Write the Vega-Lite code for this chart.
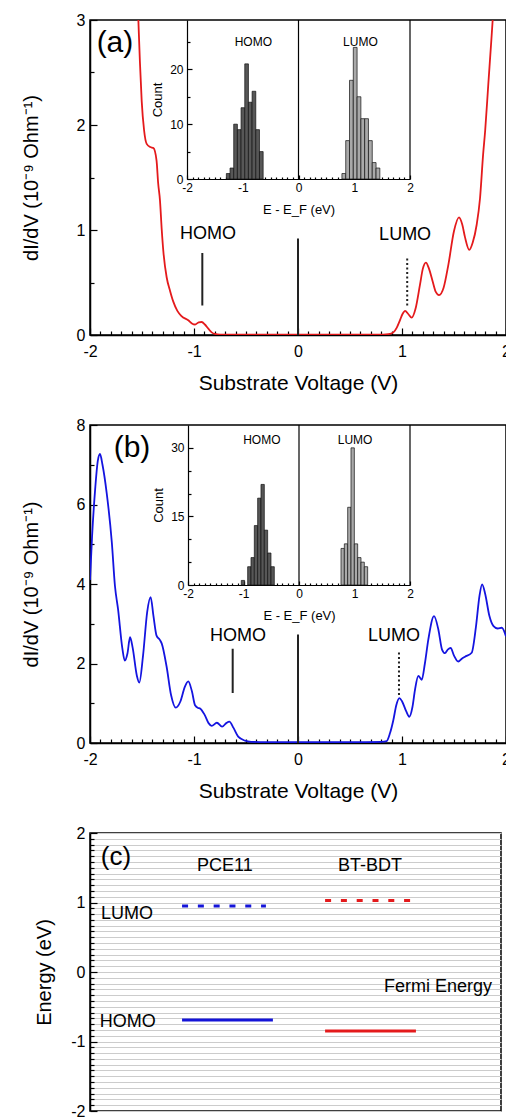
{
  "$schema": "https://vega.github.io/schema/vega-lite/v6.json",
  "background": "white",
  "padding": {"left": 20, "top": 11, "right": 0, "bottom": 0},
  "spacing": 90,
  "bounds": "flush",
  "resolve": {"scale": {"color": "independent", "strokeDash": "independent"}},
  "config": {
    "font": "Liberation Sans",
    "view": {"stroke": "black", "strokeWidth": 1.5},
    "axis": {"domainColor": "black", "tickColor": "black", "labelColor": "black", "titleColor": "black", "grid": false, "labelFont": "Liberation Sans", "titleFont": "Liberation Sans", "titleFontWeight": "normal", "labelFlush": false, "labelOverlap": false, "domainWidth": 1.5, "tickWidth": 1.2, "tickCount": 200},
    "text": {"font": "Liberation Sans", "color": "black"}
  },
  "vconcat": [
    {
      "width": 416, "height": 315,
      "layer": [
        {
          "data": {"values": [
            {"V": -1.55, "G": 3.4}, {"V": -1.535, "G": 3.0}, {"V": -1.52, "G": 2.6}, {"V": -1.503, "G": 2.23}, {"V": -1.48, "G": 1.95}, {"V": -1.455, "G": 1.82}, {"V": -1.42, "G": 1.79}, {"V": -1.39, "G": 1.78}, {"V": -1.36, "G": 1.66}, {"V": -1.345, "G": 1.45}, {"V": -1.327, "G": 1.28}, {"V": -1.31, "G": 1.0}, {"V": -1.295, "G": 0.8}, {"V": -1.263, "G": 0.55}, {"V": -1.23, "G": 0.42}, {"V": -1.2, "G": 0.32}, {"V": -1.16, "G": 0.23}, {"V": -1.12, "G": 0.18}, {"V": -1.055, "G": 0.14}, {"V": -1.02, "G": 0.11}, {"V": -0.99, "G": 0.1}, {"V": -0.955, "G": 0.12}, {"V": -0.926, "G": 0.124}, {"V": -0.895, "G": 0.1}, {"V": -0.862, "G": 0.06}, {"V": -0.83, "G": 0.025}, {"V": -0.8, "G": 0.01}, {"V": -0.75, "G": 0.004}, {"V": -0.5, "G": 0.003}, {"V": 0, "G": 0.003}, {"V": 0.5, "G": 0.003}, {"V": 0.82, "G": 0.004}, {"V": 0.87, "G": 0.008}, {"V": 0.917, "G": 0.025}, {"V": 0.95, "G": 0.07}, {"V": 0.98, "G": 0.14}, {"V": 1.005, "G": 0.2}, {"V": 1.03, "G": 0.23}, {"V": 1.06, "G": 0.2}, {"V": 1.093, "G": 0.165}, {"V": 1.13, "G": 0.25}, {"V": 1.173, "G": 0.48}, {"V": 1.2, "G": 0.63}, {"V": 1.23, "G": 0.69}, {"V": 1.26, "G": 0.63}, {"V": 1.295, "G": 0.51}, {"V": 1.325, "G": 0.41}, {"V": 1.356, "G": 0.38}, {"V": 1.4, "G": 0.45}, {"V": 1.446, "G": 0.67}, {"V": 1.5, "G": 0.99}, {"V": 1.548, "G": 1.12}, {"V": 1.58, "G": 1.05}, {"V": 1.606, "G": 0.93}, {"V": 1.647, "G": 0.81}, {"V": 1.68, "G": 0.88}, {"V": 1.718, "G": 1.05}, {"V": 1.75, "G": 1.3}, {"V": 1.78, "G": 1.72}, {"V": 1.8, "G": 1.95}, {"V": 1.83, "G": 2.39}, {"V": 1.855, "G": 2.75}, {"V": 1.872, "G": 3.0}, {"V": 1.89, "G": 3.3}
          ]},
          "mark": {"type": "line", "color": "#e41a1c", "strokeWidth": 1.8, "clip": true, "interpolate": "monotone"},
          "encoding": {
            "x": {"field": "V", "type": "quantitative", "scale": {"domain": [-2, 2], "nice": false, "zero": false},
              "axis": {"orient": "bottom", "values": [-2,-1.9,-1.8,-1.7,-1.6,-1.5,-1.4,-1.3,-1.2,-1.1,-1,-0.9,-0.8,-0.7,-0.6,-0.5,-0.4,-0.3,-0.2,-0.1,0,0.1,0.2,0.3,0.4,0.5,0.6,0.7,0.8,0.9,1,1.1,1.2,1.3,1.4,1.5,1.6,1.7,1.8,1.9,2],
                "labelExpr": "datum.value % 1 === 0 ? '' + datum.value : ''",
                "tickSize": {"condition": {"test": "datum.value % 1 === 0", "value": -7}, "value": -4},
                "labelPadding": 15, "labelFontSize": 16, "title": "Substrate Voltage (V)", "titleFontSize": 21, "titlePadding": 10}},
            "y": {"field": "G", "type": "quantitative", "scale": {"domain": [0, 3], "nice": false, "zero": false},
              "axis": {"orient": "left", "values": [0, 0.5, 1, 1.5, 2, 2.5, 3],
                "labelExpr": "datum.value % 1 === 0 ? '' + datum.value : ''",
                "tickSize": {"condition": {"test": "datum.value % 1 === 0", "value": -7}, "value": -4},
                "labelPadding": 12, "labelFontSize": 16, "title": "dI/dV (10⁻⁹ Ohm⁻¹)", "titleFontSize": 20, "titlePadding": 35}}
          }
        },
        {
          "data": {"values": [
            {"V": 0, "lo": 0, "hi": 0.92, "kind": "zero"},
            {"V": -0.92, "lo": 0.28, "hi": 0.78, "kind": "HOMO"},
            {"V": 1.05, "lo": 0.28, "hi": 0.75, "kind": "LUMO"}
          ]},
          "mark": {"type": "rule", "color": "#222222", "strokeWidth": 2},
          "encoding": {
            "x": {"field": "V", "type": "quantitative", "scale": {"domain": [-2, 2], "nice": false, "zero": false}, "axis": null},
            "y": {"field": "lo", "type": "quantitative", "scale": {"domain": [0, 3], "nice": false, "zero": false}, "axis": null},
            "y2": {"field": "hi"},
            "strokeDash": {"field": "kind", "type": "nominal", "scale": {"domain": ["zero", "HOMO", "LUMO"], "range": [[1, 0], [1, 0], [2, 2.5]]}, "legend": null}
          }
        },
        {
          "data": {"values": [{"V": -1.76, "G": 2.78, "t": "(a)"}]},
          "mark": {"type": "text", "fontSize": 30, "baseline": "middle", "align": "center"},
          "encoding": {
            "x": {"field": "V", "type": "quantitative", "scale": {"domain": [-2, 2], "nice": false, "zero": false}, "axis": null},
            "y": {"field": "G", "type": "quantitative", "scale": {"domain": [0, 3], "nice": false, "zero": false}, "axis": null},
            "text": {"field": "t"}}
        },
        {
          "data": {"values": [{"V": -0.865, "G": 0.96, "t": "HOMO"}, {"V": 1.03, "G": 0.95, "t": "LUMO"}]},
          "mark": {"type": "text", "fontSize": 18, "baseline": "middle", "align": "center"},
          "encoding": {
            "x": {"field": "V", "type": "quantitative", "scale": {"domain": [-2, 2], "nice": false, "zero": false}, "axis": null},
            "y": {"field": "G", "type": "quantitative", "scale": {"domain": [0, 3], "nice": false, "zero": false}, "axis": null},
            "text": {"field": "t"}}
        },
        {
          "data": {"values": [
            {"lo": -1.294, "hi": -1.228, "n": 1, "band": "HOMO"}, {"lo": -1.228, "hi": -1.162, "n": 2, "band": "HOMO"}, {"lo": -1.162, "hi": -1.096, "n": 10, "band": "HOMO"}, {"lo": -1.096, "hi": -1.03, "n": 9, "band": "HOMO"}, {"lo": -1.03, "hi": -0.964, "n": 13, "band": "HOMO"}, {"lo": -0.964, "hi": -0.898, "n": 21, "band": "HOMO"}, {"lo": -0.898, "hi": -0.832, "n": 14, "band": "HOMO"}, {"lo": -0.832, "hi": -0.766, "n": 16, "band": "HOMO"}, {"lo": -0.766, "hi": -0.7, "n": 9, "band": "HOMO"}, {"lo": -0.7, "hi": -0.634, "n": 5, "band": "HOMO"},
            {"lo": 0.779, "hi": 0.847, "n": 1, "band": "LUMO"}, {"lo": 0.847, "hi": 0.915, "n": 7, "band": "LUMO"}, {"lo": 0.915, "hi": 0.983, "n": 18, "band": "LUMO"}, {"lo": 0.983, "hi": 1.051, "n": 24, "band": "LUMO"}, {"lo": 1.051, "hi": 1.119, "n": 15, "band": "LUMO"}, {"lo": 1.119, "hi": 1.187, "n": 11, "band": "LUMO"}, {"lo": 1.187, "hi": 1.255, "n": 11, "band": "LUMO"}, {"lo": 1.255, "hi": 1.323, "n": 7, "band": "LUMO"}, {"lo": 1.323, "hi": 1.391, "n": 3, "band": "LUMO"}, {"lo": 1.391, "hi": 1.459, "n": 2, "band": "LUMO"}
          ]},
          "mark": {"type": "rect", "stroke": "#111111", "strokeWidth": 0.7},
          "encoding": {
            "x": {"field": "lo", "type": "quantitative", "scale": {"domain": [-2, 2], "range": [97, 320], "nice": false, "zero": false},
              "axis": {"orient": "bottom", "offset": -156,
                "values": [-2,-1.9,-1.8,-1.7,-1.6,-1.5,-1.4,-1.3,-1.2,-1.1,-1,-0.9,-0.8,-0.7,-0.6,-0.5,-0.4,-0.3,-0.2,-0.1,0,0.1,0.2,0.3,0.4,0.5,0.6,0.7,0.8,0.9,1,1.1,1.2,1.3,1.4,1.5,1.6,1.7,1.8,1.9,2],
                "labelExpr": "datum.value % 1 === 0 ? '' + datum.value : ''",
                "tickSize": {"condition": {"test": "datum.value % 1 === 0", "value": -4}, "value": -2},
                "labelPadding": 7, "labelFontSize": 12, "title": "E - E_F (eV)", "titleFontSize": 13, "titlePadding": 8, "domainWidth": 1.2}},
            "x2": {"field": "hi"},
            "y": {"field": "n", "type": "quantitative", "scale": {"domain": [0, 29], "range": [159, 0], "nice": false, "zero": false},
              "axis": {"orient": "left", "offset": -97, "values": [0, 5, 10, 15, 20, 25],
                "labelExpr": "datum.value % 10 === 0 ? '' + datum.value : ''",
                "tickSize": {"condition": {"test": "datum.value % 10 === 0", "value": -5}, "value": -3},
                "labelPadding": 9, "labelFontSize": 12, "title": "Count", "titleFontSize": 13, "titlePadding": 5, "domainWidth": 1.2}},
            "y2": {"datum": 0},
            "color": {"field": "band", "type": "nominal", "scale": {"domain": ["HOMO", "LUMO"], "range": ["#575757", "#a9a9a9"]}, "legend": null}
          }
        },
        {
          "data": {"values": [{"E": 0}, {"E": 2}]},
          "mark": {"type": "rule", "color": "black", "strokeWidth": 1.2},
          "encoding": {
            "x": {"field": "E", "type": "quantitative", "scale": {"domain": [-2, 2], "range": [97, 320], "nice": false, "zero": false}, "axis": null},
            "y": {"datum": 0, "type": "quantitative", "scale": {"domain": [0, 29], "range": [159, 0], "nice": false, "zero": false}, "axis": null},
            "y2": {"datum": 29}}
        },
        {
          "data": {"values": [{"E": -0.81, "n": 25, "t": "HOMO"}, {"E": 1.11, "n": 25, "t": "LUMO"}]},
          "mark": {"type": "text", "fontSize": 12, "baseline": "middle", "align": "center"},
          "encoding": {
            "x": {"field": "E", "type": "quantitative", "scale": {"domain": [-2, 2], "range": [97, 320], "nice": false, "zero": false}, "axis": null},
            "y": {"field": "n", "type": "quantitative", "scale": {"domain": [0, 29], "range": [159, 0], "nice": false, "zero": false}, "axis": null},
            "text": {"field": "t"}}
        }
      ],
      "resolve": {"scale": {"x": "independent", "y": "independent"}}
    },
    {
      "width": 416, "height": 318,
      "layer": [
        {
          "data": {"values": [
            {"V": -2.0, "G": 4.1}, {"V": -1.98, "G": 5.2}, {"V": -1.95, "G": 6.4}, {"V": -1.925, "G": 7.1}, {"V": -1.904, "G": 7.27}, {"V": -1.88, "G": 7.0}, {"V": -1.84, "G": 6.3}, {"V": -1.79, "G": 5.04}, {"V": -1.76, "G": 3.95}, {"V": -1.73, "G": 3.36}, {"V": -1.69, "G": 2.4}, {"V": -1.665, "G": 2.07}, {"V": -1.64, "G": 2.25}, {"V": -1.615, "G": 2.66}, {"V": -1.59, "G": 2.4}, {"V": -1.55, "G": 1.7}, {"V": -1.526, "G": 1.52}, {"V": -1.49, "G": 2.2}, {"V": -1.45, "G": 3.3}, {"V": -1.417, "G": 3.67}, {"V": -1.39, "G": 3.2}, {"V": -1.36, "G": 2.7}, {"V": -1.33, "G": 2.6}, {"V": -1.31, "G": 2.5}, {"V": -1.264, "G": 1.93}, {"V": -1.22, "G": 1.2}, {"V": -1.176, "G": 0.89}, {"V": -1.13, "G": 1.05}, {"V": -1.09, "G": 1.4}, {"V": -1.055, "G": 1.55}, {"V": -1.02, "G": 1.3}, {"V": -0.99, "G": 0.95}, {"V": -0.96, "G": 0.88}, {"V": -0.944, "G": 0.87}, {"V": -0.9, "G": 0.72}, {"V": -0.86, "G": 0.5}, {"V": -0.83, "G": 0.43}, {"V": -0.78, "G": 0.51}, {"V": -0.73, "G": 0.41}, {"V": -0.69, "G": 0.5}, {"V": -0.66, "G": 0.54}, {"V": -0.62, "G": 0.38}, {"V": -0.575, "G": 0.16}, {"V": -0.51, "G": 0.06}, {"V": -0.45, "G": 0.03}, {"V": -0.3, "G": 0.02}, {"V": -0.1, "G": 0.02}, {"V": 0.2, "G": 0.02}, {"V": 0.5, "G": 0.02}, {"V": 0.8, "G": 0.03}, {"V": 0.853, "G": 0.05}, {"V": 0.885, "G": 0.25}, {"V": 0.917, "G": 0.58}, {"V": 0.945, "G": 0.95}, {"V": 0.975, "G": 1.13}, {"V": 1.0, "G": 1.05}, {"V": 1.04, "G": 0.8}, {"V": 1.07, "G": 0.66}, {"V": 1.1, "G": 0.9}, {"V": 1.125, "G": 1.34}, {"V": 1.157, "G": 1.69}, {"V": 1.19, "G": 1.59}, {"V": 1.22, "G": 2.0}, {"V": 1.253, "G": 2.6}, {"V": 1.308, "G": 3.19}, {"V": 1.35, "G": 2.85}, {"V": 1.385, "G": 2.35}, {"V": 1.413, "G": 2.26}, {"V": 1.44, "G": 2.35}, {"V": 1.468, "G": 2.39}, {"V": 1.5, "G": 2.2}, {"V": 1.541, "G": 2.05}, {"V": 1.575, "G": 2.12}, {"V": 1.606, "G": 2.17}, {"V": 1.67, "G": 2.27}, {"V": 1.71, "G": 2.9}, {"V": 1.745, "G": 3.7}, {"V": 1.77, "G": 3.99}, {"V": 1.8, "G": 3.75}, {"V": 1.84, "G": 3.2}, {"V": 1.88, "G": 2.94}, {"V": 1.92, "G": 2.88}, {"V": 1.96, "G": 2.9}, {"V": 2.0, "G": 2.68}
          ]},
          "mark": {"type": "line", "color": "#1414e0", "strokeWidth": 1.8, "clip": true, "interpolate": "monotone"},
          "encoding": {
            "x": {"field": "V", "type": "quantitative", "scale": {"domain": [-2, 2], "nice": false, "zero": false},
              "axis": {"orient": "bottom", "values": [-2,-1.9,-1.8,-1.7,-1.6,-1.5,-1.4,-1.3,-1.2,-1.1,-1,-0.9,-0.8,-0.7,-0.6,-0.5,-0.4,-0.3,-0.2,-0.1,0,0.1,0.2,0.3,0.4,0.5,0.6,0.7,0.8,0.9,1,1.1,1.2,1.3,1.4,1.5,1.6,1.7,1.8,1.9,2],
                "labelExpr": "datum.value % 1 === 0 ? '' + datum.value : ''",
                "tickSize": {"condition": {"test": "datum.value % 1 === 0", "value": -7}, "value": -4},
                "labelPadding": 15, "labelFontSize": 16, "title": "Substrate Voltage (V)", "titleFontSize": 21, "titlePadding": 10}},
            "y": {"field": "G", "type": "quantitative", "scale": {"domain": [0, 8], "nice": false, "zero": false},
              "axis": {"orient": "left", "values": [0, 1, 2, 3, 4, 5, 6, 7, 8],
                "labelExpr": "datum.value % 2 === 0 ? '' + datum.value : ''",
                "tickSize": {"condition": {"test": "datum.value % 2 === 0", "value": -7}, "value": -4},
                "labelPadding": 12, "labelFontSize": 16, "title": "dI/dV (10⁻⁹ Ohm⁻¹)", "titleFontSize": 20, "titlePadding": 35}}
          }
        },
        {
          "data": {"values": [
            {"V": 0, "lo": 0, "hi": 2.73, "kind": "zero"},
            {"V": -0.628, "lo": 1.26, "hi": 2.37, "kind": "HOMO"},
            {"V": 0.971, "lo": 1.21, "hi": 2.3, "kind": "LUMO"}
          ]},
          "mark": {"type": "rule", "color": "#222222", "strokeWidth": 2},
          "encoding": {
            "x": {"field": "V", "type": "quantitative", "scale": {"domain": [-2, 2], "nice": false, "zero": false}, "axis": null},
            "y": {"field": "lo", "type": "quantitative", "scale": {"domain": [0, 8], "nice": false, "zero": false}, "axis": null},
            "y2": {"field": "hi"},
            "strokeDash": {"field": "kind", "type": "nominal", "scale": {"domain": ["zero", "HOMO", "LUMO"], "range": [[1, 0], [1, 0], [2, 2.5]]}, "legend": null}
          }
        },
        {
          "data": {"values": [{"V": -1.596, "G": 7.42, "t": "(b)"}]},
          "mark": {"type": "text", "fontSize": 30, "baseline": "middle", "align": "center"},
          "encoding": {
            "x": {"field": "V", "type": "quantitative", "scale": {"domain": [-2, 2], "nice": false, "zero": false}, "axis": null},
            "y": {"field": "G", "type": "quantitative", "scale": {"domain": [0, 8], "nice": false, "zero": false}, "axis": null},
            "text": {"field": "t"}}
        },
        {
          "data": {"values": [{"V": -0.577, "G": 2.7, "t": "HOMO"}, {"V": 0.923, "G": 2.7, "t": "LUMO"}]},
          "mark": {"type": "text", "fontSize": 18, "baseline": "middle", "align": "center"},
          "encoding": {
            "x": {"field": "V", "type": "quantitative", "scale": {"domain": [-2, 2], "nice": false, "zero": false}, "axis": null},
            "y": {"field": "G", "type": "quantitative", "scale": {"domain": [0, 8], "nice": false, "zero": false}, "axis": null},
            "text": {"field": "t"}}
        },
        {
          "data": {"values": [
            {"lo": -1.04, "hi": -0.98, "n": 1, "band": "HOMO"}, {"lo": -0.925, "hi": -0.865, "n": 4, "band": "HOMO"}, {"lo": -0.865, "hi": -0.805, "n": 6, "band": "HOMO"}, {"lo": -0.805, "hi": -0.745, "n": 13, "band": "HOMO"}, {"lo": -0.745, "hi": -0.685, "n": 19, "band": "HOMO"}, {"lo": -0.685, "hi": -0.625, "n": 22, "band": "HOMO"}, {"lo": -0.625, "hi": -0.565, "n": 12, "band": "HOMO"}, {"lo": -0.565, "hi": -0.505, "n": 7, "band": "HOMO"}, {"lo": -0.505, "hi": -0.445, "n": 4, "band": "HOMO"},
            {"lo": 0.757, "hi": 0.817, "n": 8, "band": "LUMO"}, {"lo": 0.817, "hi": 0.877, "n": 9, "band": "LUMO"}, {"lo": 0.877, "hi": 0.937, "n": 17, "band": "LUMO"}, {"lo": 0.937, "hi": 0.997, "n": 30, "band": "LUMO"}, {"lo": 0.997, "hi": 1.057, "n": 9, "band": "LUMO"}, {"lo": 1.057, "hi": 1.117, "n": 6, "band": "LUMO"}, {"lo": 1.117, "hi": 1.177, "n": 5, "band": "LUMO"}, {"lo": 1.177, "hi": 1.237, "n": 4, "band": "LUMO"}
          ]},
          "mark": {"type": "rect", "stroke": "#111111", "strokeWidth": 0.7},
          "encoding": {
            "x": {"field": "lo", "type": "quantitative", "scale": {"domain": [-2, 2], "range": [98, 320], "nice": false, "zero": false},
              "axis": {"orient": "bottom", "offset": -158,
                "values": [-2,-1.9,-1.8,-1.7,-1.6,-1.5,-1.4,-1.3,-1.2,-1.1,-1,-0.9,-0.8,-0.7,-0.6,-0.5,-0.4,-0.3,-0.2,-0.1,0,0.1,0.2,0.3,0.4,0.5,0.6,0.7,0.8,0.9,1,1.1,1.2,1.3,1.4,1.5,1.6,1.7,1.8,1.9,2],
                "labelExpr": "datum.value % 1 === 0 ? '' + datum.value : ''",
                "tickSize": {"condition": {"test": "datum.value % 1 === 0", "value": -4}, "value": -2},
                "labelPadding": 7, "labelFontSize": 12, "title": "E - E_F (eV)", "titleFontSize": 13, "titlePadding": 8, "domainWidth": 1.2}},
            "x2": {"field": "hi"},
            "y": {"field": "n", "type": "quantitative", "scale": {"domain": [0, 35], "range": [160, 0], "nice": false, "zero": false},
              "axis": {"orient": "left", "offset": -98, "values": [0, 5, 10, 15, 20, 25, 30],
                "labelExpr": "datum.value % 15 === 0 ? '' + datum.value : ''",
                "tickSize": {"condition": {"test": "datum.value % 15 === 0", "value": -5}, "value": -3},
                "labelPadding": 9, "labelFontSize": 12, "title": "Count", "titleFontSize": 13, "titlePadding": 5, "domainWidth": 1.2}},
            "y2": {"datum": 0},
            "color": {"field": "band", "type": "nominal", "scale": {"domain": ["HOMO", "LUMO"], "range": ["#575757", "#a9a9a9"]}, "legend": null}
          }
        },
        {
          "data": {"values": [{"E": 0}, {"E": 2}]},
          "mark": {"type": "rule", "color": "black", "strokeWidth": 1.2},
          "encoding": {
            "x": {"field": "E", "type": "quantitative", "scale": {"domain": [-2, 2], "range": [98, 320], "nice": false, "zero": false}, "axis": null},
            "y": {"datum": 0, "type": "quantitative", "scale": {"domain": [0, 35], "range": [160, 0], "nice": false, "zero": false}, "axis": null},
            "y2": {"datum": 35}}
        },
        {
          "data": {"values": [{"E": -0.67, "n": 31.7, "t": "HOMO"}, {"E": 1.01, "n": 31.7, "t": "LUMO"}]},
          "mark": {"type": "text", "fontSize": 12, "baseline": "middle", "align": "center"},
          "encoding": {
            "x": {"field": "E", "type": "quantitative", "scale": {"domain": [-2, 2], "range": [98, 320], "nice": false, "zero": false}, "axis": null},
            "y": {"field": "n", "type": "quantitative", "scale": {"domain": [0, 35], "range": [160, 0], "nice": false, "zero": false}, "axis": null},
            "text": {"field": "t"}}
        }
      ],
      "resolve": {"scale": {"x": "independent", "y": "independent"}}
    },
    {
      "width": 411, "height": 278,
      "layer": [
        {
          "data": {"values": [
            {"x1": 0.224, "x2": 0.428, "E": 0.95, "mat": "PCE11", "kind": "LUMO"},
            {"x1": 0.224, "x2": 0.445, "E": -0.69, "mat": "PCE11", "kind": "HOMO"},
            {"x1": 0.572, "x2": 0.779, "E": 1.03, "mat": "BT-BDT", "kind": "LUMO"},
            {"x1": 0.572, "x2": 0.793, "E": -0.85, "mat": "BT-BDT", "kind": "HOMO"}
          ]},
          "mark": {"type": "rule", "strokeWidth": 3},
          "encoding": {
            "x": {"field": "x1", "type": "quantitative", "scale": {"domain": [0, 1], "nice": false}, "axis": null},
            "x2": {"field": "x2"},
            "y": {"field": "E", "type": "quantitative", "scale": {"domain": [-2, 2], "nice": false},
              "axis": {"values": [-2,-1.9167,-1.8333,-1.75,-1.6667,-1.5833,-1.5,-1.4167,-1.3333,-1.25,-1.1667,-1.0833,-1,-0.9167,-0.8333,-0.75,-0.6667,-0.5833,-0.5,-0.4167,-0.3333,-0.25,-0.1667,-0.0833,0,0.0833,0.1667,0.25,0.3333,0.4167,0.5,0.5833,0.6667,0.75,0.8333,0.9167,1,1.0833,1.1667,1.25,1.3333,1.4167,1.5,1.5833,1.6667,1.75,1.8333,1.9167,2],
                "labelExpr": "datum.value % 1 === 0 ? '' + datum.value : ''",
                "tickSize": {"condition": {"test": "datum.value % 1 === 0", "value": -7}, "value": -4},
                "grid": true, "gridColor": "#cccccc", "gridWidth": 1.2,
                "labelPadding": 12, "labelFontSize": 16, "title": "Energy (eV)", "titleFontSize": 20, "titlePadding": 16}},
            "color": {"field": "mat", "type": "nominal", "scale": {"domain": ["PCE11", "BT-BDT"], "range": ["#1414d8", "#e41a1c"]}, "legend": null},
            "strokeDash": {"field": "kind", "type": "nominal", "scale": {"domain": ["HOMO", "LUMO"], "range": [[1, 0], [6, 9.8]]}, "legend": null}
          }
        },
        {
          "mark": {"type": "rule", "color": "black", "strokeWidth": 1.2, "strokeDash": [3, 3]},
          "encoding": {"x": {"datum": 0}, "x2": {"datum": 0.978}, "y": {"datum": 0}}
        },
        {
          "data": {"values": [{"x": 0.063, "y": 1.65, "t": "(c)"}]},
          "mark": {"type": "text", "fontSize": 26, "baseline": "middle", "align": "center"},
          "encoding": {"x": {"field": "x", "type": "quantitative"}, "y": {"field": "y", "type": "quantitative"}, "text": {"field": "t"}}
        },
        {
          "data": {"values": [{"x": 0.328, "y": 1.53, "t": "PCE11"}, {"x": 0.681, "y": 1.53, "t": "BT-BDT"}]},
          "mark": {"type": "text", "fontSize": 18, "baseline": "middle", "align": "center"},
          "encoding": {"x": {"field": "x", "type": "quantitative"}, "y": {"field": "y", "type": "quantitative"}, "text": {"field": "t"}}
        },
        {
          "data": {"values": [{"x": 0.027, "y": 0.84, "t": "LUMO"}, {"x": 0.024, "y": -0.714, "t": "HOMO"}]},
          "mark": {"type": "text", "fontSize": 18, "baseline": "middle", "align": "left"},
          "encoding": {"x": {"field": "x", "type": "quantitative"}, "y": {"field": "y", "type": "quantitative"}, "text": {"field": "t"}}
        },
        {
          "data": {"values": [{"x": 0.978, "y": -0.22, "t": "Fermi Energy"}]},
          "mark": {"type": "text", "fontSize": 18, "baseline": "middle", "align": "right"},
          "encoding": {"x": {"field": "x", "type": "quantitative"}, "y": {"field": "y", "type": "quantitative"}, "text": {"field": "t"}}
        }
      ]
    }
  ]
}
